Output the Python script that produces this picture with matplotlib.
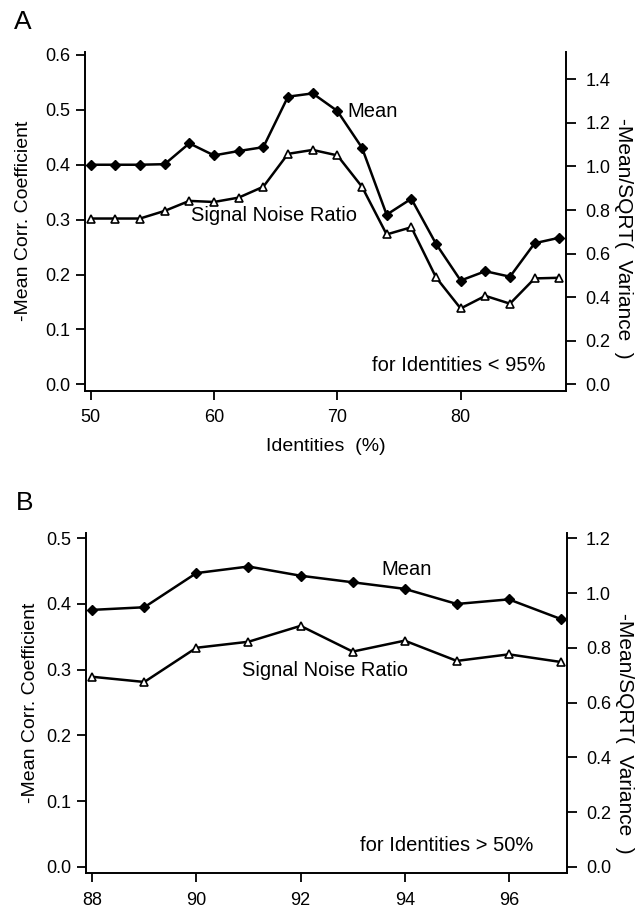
import numpy as np
import matplotlib
matplotlib.use("Agg")
import matplotlib.pyplot as plt

plt.rcParams['font.family'] = ['Liberation Sans', 'DejaVu Sans']

# panel A data
ident_a = [50, 52, 54, 56, 58, 60, 62, 64, 66, 68, 70, 72, 74, 76, 78, 80, 82, 84, 86, 88]
mean_a = [0.400, 0.400, 0.400, 0.401, 0.439, 0.417, 0.425, 0.432, 0.524, 0.530, 0.498,
          0.431, 0.309, 0.338, 0.256, 0.189, 0.206, 0.196, 0.257, 0.267]
snr_a = [0.761, 0.761, 0.761, 0.796, 0.842, 0.837, 0.857, 0.907, 1.058, 1.076, 1.051,
         0.907, 0.688, 0.721, 0.491, 0.348, 0.406, 0.370, 0.486, 0.489]

# panel B data
ident_b = [88, 89, 90, 91, 92, 93, 94, 95, 96, 97]
mean_b = [0.391, 0.395, 0.447, 0.457, 0.443, 0.433, 0.423, 0.400, 0.407, 0.377]
snr_b = [0.694, 0.675, 0.800, 0.822, 0.880, 0.786, 0.826, 0.752, 0.776, 0.748]

fig = plt.figure(figsize=(6.36, 9.05), dpi=100)


def style(ax, ax2, llabel_x, rlabel_y):
    for a in (ax, ax2):
        a.spines['top'].set_visible(False)
        for s in a.spines.values():
            s.set_linewidth(1.4)
    ax.spines['right'].set_visible(False)
    ax2.spines['left'].set_visible(False)
    ax2.spines['bottom'].set_visible(False)
    ax.tick_params(axis='y', direction='out', length=6.5, width=1.3, pad=4, labelsize=13)
    ax.tick_params(axis='x', direction='out', length=6.5, width=1.3, pad=7, labelsize=13)
    ax2.tick_params(axis='y', direction='out', length=7, width=1.3, pad=7, labelsize=13)
    ax.yaxis.set_major_formatter(matplotlib.ticker.FormatStrFormatter('%.1f'))
    ax2.yaxis.set_major_formatter(matplotlib.ticker.FormatStrFormatter('%.1f'))
    ax.set_ylabel('-Mean Corr. Coefficient', fontsize=14)
    ax.yaxis.set_label_coords(llabel_x, 0.5)
    ax2.set_ylabel('-Mean/SQRT(  Variance  )', fontsize=15, rotation=-90, va='bottom')
    ax2.yaxis.set_label_coords(1.10, rlabel_y)


# ---- A ----
ax = fig.add_axes([0.1336, 0.5683, 0.7563, 0.3746])
ax2 = ax.twinx()
ax.plot(ident_a, mean_a, color='black', lw=1.8, marker='D', ms=5.5, mfc='black', zorder=3)
ax2.plot(ident_a, snr_a, color='black', lw=1.8, marker='^', ms=6, mfc='white', mew=1.2, zorder=3)
ax.set_xlim(49.54, 88.54)
ax.set_ylim(-0.0117, 0.606)
ax2.set_ylim(-0.0117 * 2.52, 0.606 * 2.52)
ax.set_xticks([50, 60, 70, 80])
ax.set_yticks(np.arange(0, 0.61, 0.1))
ax2.set_yticks(np.arange(0, 1.41, 0.2))
style(ax, ax2, -0.11, 0.45)
ax.set_xlabel('Identities  (%)', fontsize=14, labelpad=8)
ax.text(70.8, 0.497, 'Mean', ha='left', va='center', fontsize=14.5)
ax.text(64.9, 0.308, 'Signal Noise Ratio', ha='center', va='center', fontsize=14.5)
ax.text(86.9, 0.034, 'for Identities < 95%', ha='right', va='center', fontsize=14.5)
fig.text(0.036, 0.976, 'A', fontsize=19, ha='center', va='center')

# ---- B ----
bx = fig.add_axes([0.1352, 0.0350, 0.7558, 0.3764])
bx2 = bx.twinx()
bx.plot(ident_b, mean_b, color='black', lw=1.8, marker='D', ms=5.5, mfc='black', zorder=3)
bx2.plot(ident_b, snr_b, color='black', lw=1.8, marker='^', ms=6, mfc='white', mew=1.2, zorder=3)
bx.set_xlim(87.88, 97.11)
bx.set_ylim(-0.010, 0.5085)
bx2.set_ylim(-0.010 * 2.4, 0.5085 * 2.4)
bx.set_xticks([88, 90, 92, 94, 96])
bx.set_yticks(np.arange(0, 0.51, 0.1))
bx2.set_yticks(np.arange(0, 1.21, 0.2))
style(bx, bx2, -0.098, 0.41)
bx.text(93.55, 0.452, 'Mean', ha='left', va='center', fontsize=14.5)
bx.text(92.47, 0.299, 'Signal Noise Ratio', ha='center', va='center', fontsize=14.5)
bx.text(96.47, 0.033, 'for Identities > 50%', ha='right', va='center', fontsize=14.5)
fig.text(0.039, 0.444, 'B', fontsize=19, ha='center', va='center')

fig.savefig('out.png', dpi=100)
